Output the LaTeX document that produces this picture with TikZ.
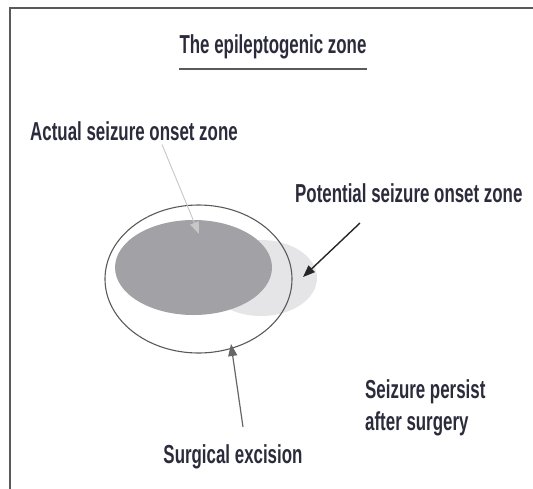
\documentclass[tikz,border=0pt]{standalone}
\usepackage{fontspec}
\setmainfont{Liberation Sans}[FakeStretch=0.65,UprightFont=* Bold]
\usetikzlibrary{arrows.meta,shapes.geometric}
\definecolor{txt}{HTML}{2B2B3B}
\definecolor{darkzone}{HTML}{A2A2A6}
\definecolor{lightzone}{HTML}{E5E5E8}
\definecolor{framegray}{HTML}{5A5A5A}
\begin{document}
\begin{tikzpicture}[x=1pt,y=-1pt,
  lbl/.style={font=\fontsize{26}{29}\selectfont, text=txt, inner sep=0pt},
  zone/.style={ellipse, inner sep=0pt},
  tip/.style={-{Triangle[length=12pt,width=9pt]}}]
\useasboundingbox (0,0) rectangle (533,488);
% frame (only top and left edges visible)
\draw[framegray, line width=2pt] (10,520) -- (10,8) -- (560,8);
% title
\node[lbl, anchor=base] (title) at (273,53) {The epileptogenic zone};
\draw[framegray, line width=2pt] ([yshift=-10pt]title.south west) -- ([yshift=-10pt]title.south east);
% zones
\node[zone, fill=lightzone, minimum width=112pt, minimum height=76pt] (potential) at (261,278) {};
\node[zone, fill=darkzone, minimum width=157pt, minimum height=95pt] (actual) at (193.5,267.5) {};
\node[zone, draw=framegray, line width=1.1pt, minimum width=187pt, minimum height=148pt] (excision) at (198.5,279) {};
% labels
\node[lbl, anchor=base west] (actuallbl) at (30,140) {Actual seizure onset zone};
\node[lbl, anchor=base west] (potlbl) at (295,202) {Potential seizure onset zone};
\node[lbl, anchor=base] (exclbl) at (233,463) {Surgical excision};
\node[lbl, anchor=base west, align=left, font=\fontsize{26}{32}\selectfont] (persist) at (365,430) {Seizure persist\\after surgery};
% connector ends
\coordinate (atip) at (199,234);
\coordinate (pstart) at (360,223);
\coordinate (ptip) at (303,277);
\coordinate (estart) at (243,427);
\coordinate (etip) at (231,344);
% connectors
\draw[tip, color=black!22, line width=0.9pt] ([xshift=28pt,yshift=-4pt]actuallbl.south) -- (atip);
\draw[tip, color=black!85, line width=1.4pt] (pstart) -- (ptip);
\draw[tip, color=black!60, line width=1.2pt] (estart) -- (etip);
\end{tikzpicture}
\end{document}
